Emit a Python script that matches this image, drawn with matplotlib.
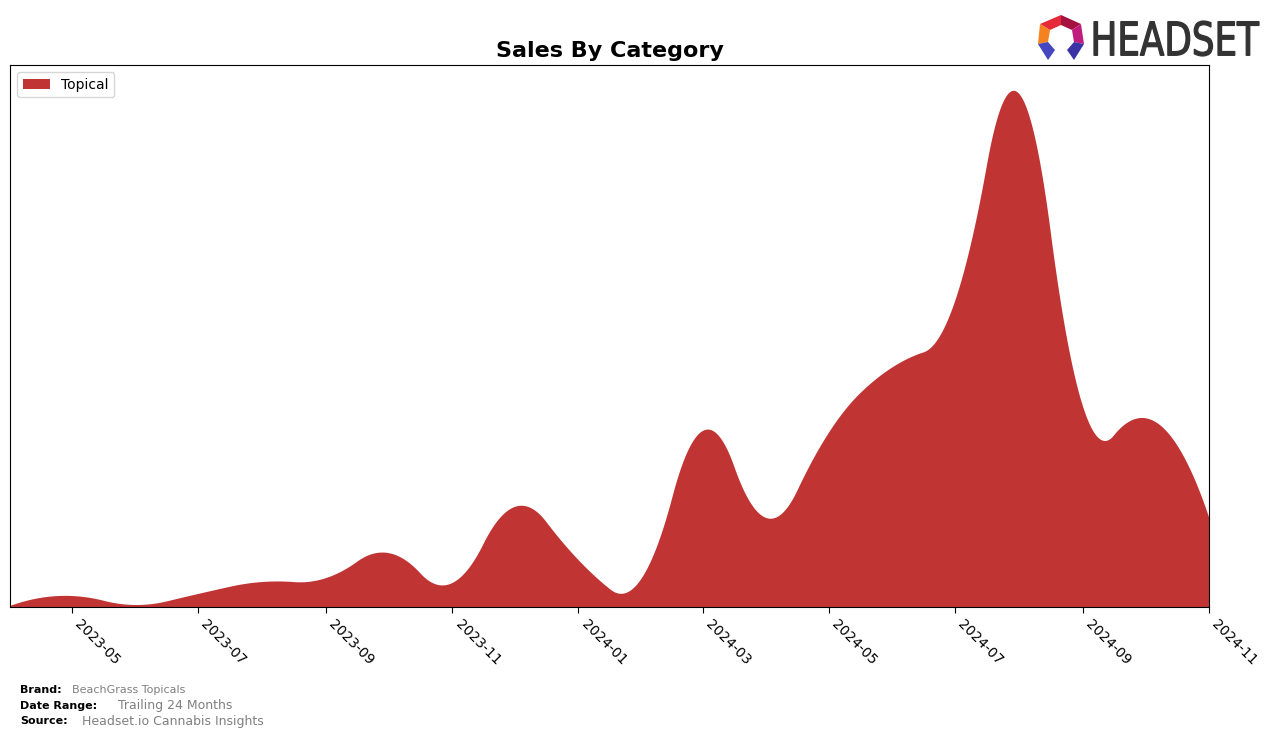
import numpy as np
import pandas as pd
import matplotlib
matplotlib.use("Agg")
import matplotlib.pyplot as plt
import matplotlib.dates as mdates
from matplotlib.patches import Polygon, PathPatch
from matplotlib.textpath import TextPath
from matplotlib.font_manager import FontProperties
from matplotlib.transforms import Affine2D

# ---- data (monthly sales, arbitrary units) ----
months = ["2023-04", "2023-05", "2023-06", "2023-07", "2023-08", "2023-09",
          "2023-10", "2023-11", "2023-12", "2024-01", "2024-02", "2024-03",
          "2024-04", "2024-05", "2024-06", "2024-07", "2024-08", "2024-09",
          "2024-10", "2024-11"]
topical = [1, 11, 2, 13, 25, 29, 54, 24, 100, 47, 30, 176,
           89, 174, 240, 305, 514, 201, 189, 90]
tick_labels = ["2023-05", "2023-07", "2023-09", "2023-11", "2024-01",
               "2024-03", "2024-05", "2024-07", "2024-09", "2024-11"]
category = "Topical"
color = "#C13434"


def bspl_basis(t, k, x):
    x = np.asarray(x, float)
    m = len(t) - 1
    B = np.zeros((len(x), m))
    nonempty = [i for i in range(m) if t[i] < t[i + 1]]
    for i in nonempty:
        B[:, i] = ((x >= t[i]) & (x < t[i + 1])).astype(float)
    B[x >= t[-1], nonempty[-1]] = 1.0
    for d in range(1, k + 1):
        Bn = np.zeros((len(x), m - d))
        for i in range(m - d):
            term = np.zeros(len(x))
            den1 = t[i + d] - t[i]
            if den1 > 0:
                term += (x - t[i]) / den1 * B[:, i]
            den2 = t[i + d + 1] - t[i + 1]
            if den2 > 0:
                term += (t[i + d + 1] - x) / den2 * B[:, i + 1]
            Bn[:, i] = term
        B = Bn
    return B


def quad_interp_spline(x, y, xs):
    x = np.asarray(x, float); y = np.asarray(y, float)
    k = 2
    mid = (x[1:] + x[:-1]) / 2.0
    t = np.r_[(x[0],) * (k + 1), mid[1:-1], (x[-1],) * (k + 1)]
    c = np.linalg.solve(bspl_basis(t, k, x), y)
    return bspl_basis(t, k, xs) @ c


dates = pd.to_datetime(months)
xnum = mdates.date2num(dates)
xs = np.linspace(xnum[0], xnum[-1], 1200)
ys = np.clip(quad_interp_spline(xnum, topical, xs), 0, None)

fig = plt.figure(figsize=(12.76, 7.38), dpi=100)
ax = fig.add_axes([10 / 1276, 1 - 607 / 738, (1209 - 10) / 1276, (607 - 65) / 738])
ax.stackplot(mdates.num2date(xs), ys, colors=[color], labels=[category])
ax.set_xlim(xnum[0], xnum[-1])
ax.set_ylim(0, ys.max() * 1.05)
ax.set_yticks([])
ticks = mdates.date2num(pd.to_datetime(tick_labels))
ax.set_xticks(ticks)
ax.set_xticklabels(tick_labels, rotation=-45, ha="left", fontsize=10)
ax.tick_params(axis="x", length=4)
for s in ax.spines.values():
    s.set_color("black")
ax.legend(loc="upper left", fontsize=10, frameon=True)
ax.set_title("Sales By Category", fontsize=16, fontweight="bold", pad=6)

# ---- footer ----
fig.text(20 / 1276, 1 - 690 / 738, "Brand:", fontsize=8, fontweight="bold", va="center")
fig.text(72 / 1276, 1 - 690 / 738, "BeachGrass Topicals", fontsize=8, color="gray", va="center")
fig.text(20 / 1276, 1 - 706 / 738, "Date Range:", fontsize=8, fontweight="bold", va="center")
fig.text(118 / 1276, 1 - 706 / 738, "Trailing 24 Months", fontsize=9, color="gray", va="center")
fig.text(20 / 1276, 1 - 721 / 738, "Source:", fontsize=8, fontweight="bold", va="center")
fig.text(82 / 1276, 1 - 721 / 738, "Headset.io Cannabis Insights", fontsize=9, color="gray", va="center")

# ---- logo (pixel-coordinate overlay) ----
lax = fig.add_axes([1030 / 1276, 1 - 65 / 738, 246 / 1276, 60 / 738])
lax.set_xlim(1030, 1276); lax.set_ylim(65, 5); lax.axis("off")
polys = [
    ([(1040, 24), (1061, 15), (1061, 25), (1050, 30)], "#E52B3A"),
    ([(1061, 15), (1081, 24), (1072, 30), (1061, 25)], "#A5123F"),
    ([(1081, 24), (1084, 44), (1074, 42), (1072, 30)], "#C01C7E"),
    ([(1040, 24), (1050, 30), (1048, 42), (1038, 44)], "#F5821F"),
    ([(1038, 44), (1048, 42), (1055, 50), (1048, 60)], "#4446C2"),
    ([(1084, 44), (1074, 42), (1067, 50), (1074, 60)], "#3A33A6"),
]
for pts, c in polys:
    lax.add_patch(Polygon(pts, closed=True, color=c, lw=0))
tp = TextPath((0, 0), "HEADSET", size=10, prop=FontProperties(family="DejaVu Sans"))
ext = tp.get_extents()
x0, x1, y0, y1 = 1094, 1259, 21, 56
tr = (Affine2D().translate(-ext.x0, -ext.y0)
      .scale((x1 - x0) / ext.width, -(y1 - y0) / ext.height)
      .translate(x0, y1))
lax.add_patch(PathPatch(tr.transform_path(tp), facecolor="#333333",
                        edgecolor="#333333", lw=0.9))

fig.savefig("out.png", dpi=100)
